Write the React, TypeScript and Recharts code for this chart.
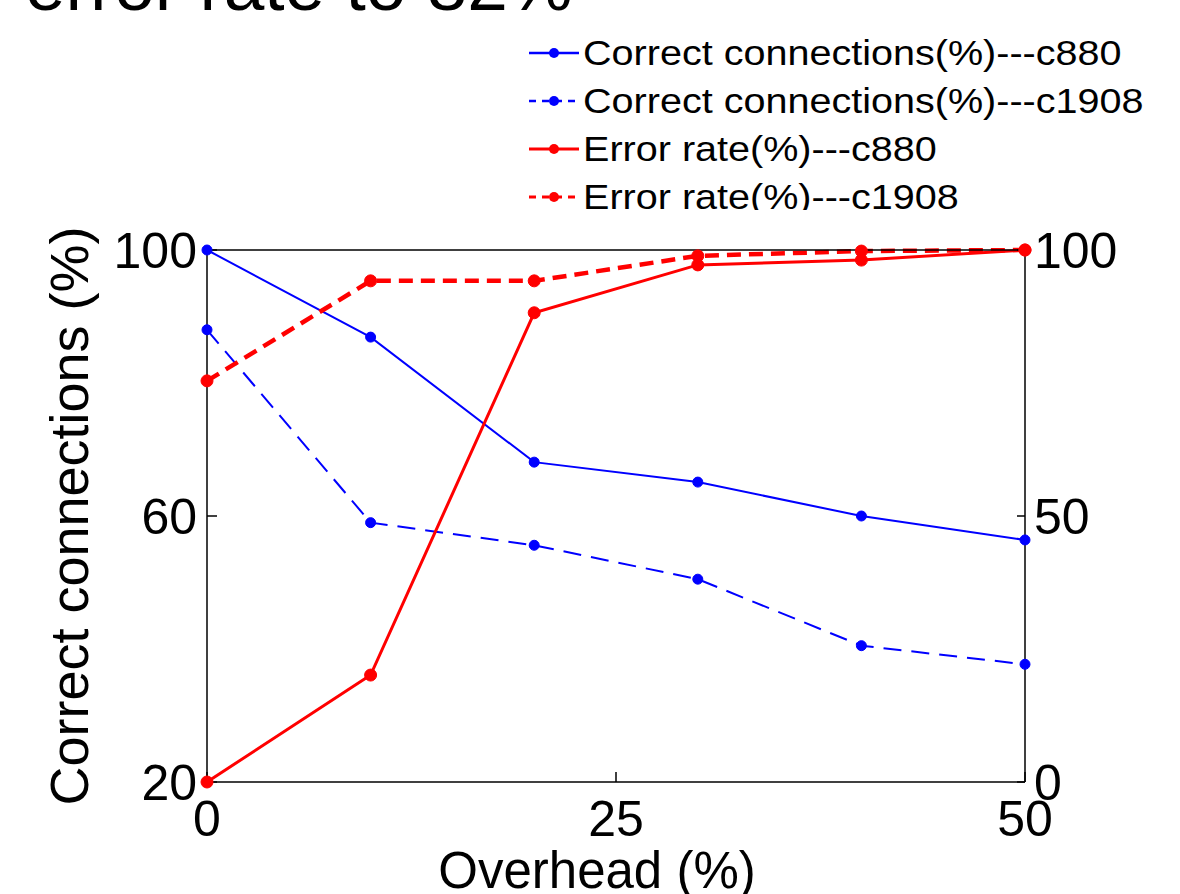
import { LineChart, Line, XAxis, YAxis, Legend } from "recharts";

const overhead = [0, 10, 20, 30, 40, 50];
const correctC880 = [100, 86.9, 68.1, 65.1, 60, 56.4];
const correctC1908 = [88, 59, 55.6, 50.5, 40.5, 37.7];
const errorC880 = [0, 20.1, 88.2, 97.2, 98.1, 100];
const errorC1908 = [75.4, 94.2, 94.2, 98.9, 99.8, 100];

const xTicks = [0, 25, 50];
const leftTicks = [20, 60, 100];
const rightTicks = [0, 50, 100];

const BLUE = "#0000ff";
const RED = "#ff0000";
const FONT = "'Liberation Sans', Arial, sans-serif";

const data = overhead.map((x, i) => ({
  x,
  c880: correctC880[i],
  c1908: correctC1908[i],
  e880: errorC880[i],
  e1908: errorC1908[i],
}));

const series = [
  { key: "c880", name: "Correct connections(%)---c880", color: BLUE, dashed: false, axis: "left", width: 2, r: 5 },
  { key: "c1908", name: "Correct connections(%)---c1908", color: BLUE, dashed: true, axis: "left", width: 2, r: 5 },
  { key: "e880", name: "Error rate(%)---c880", color: RED, dashed: false, axis: "right", width: 3, r: 6 },
  { key: "e1908", name: "Error rate(%)---c1908", color: RED, dashed: true, axis: "right", width: 4.5, r: 6 },
];

const tickStyle = { fontFamily: FONT, fontSize: 50, fill: "#000" };
const black = { stroke: "#000", strokeWidth: 1.5 };

function LegendBox() {
  return (
    <div>
      {series.map((s) => (
        <div key={s.key} style={{ height: 48, display: "flex", alignItems: "center" }}>
          <svg width={58} height={48} style={{ flex: "none" }}>
            <line
              x1={4}
              x2={54}
              y1={24}
              y2={24}
              stroke={s.color}
              strokeWidth={s.axis === "right" ? 3 : 2.5}
              strokeDasharray={s.dashed ? "7 6" : undefined}
            />
            <circle cx={29} cy={24} r={5} fill={s.color} />
          </svg>
          <span
            style={{
              fontFamily: FONT,
              fontSize: 35,
              color: "#000",
              whiteSpace: "nowrap",
              display: "inline-block",
              transform: "scaleX(1.13)",
              transformOrigin: "left center",
            }}
          >
            {s.name}
          </span>
        </div>
      ))}
    </div>
  );
}

export default function App() {
  return (
    <div style={{ position: "absolute", left: 0, top: 0, width: 1180, height: 894, background: "#fff", overflow: "hidden" }}>
      <LineChart width={1180} height={894} data={data} margin={{ top: 240, right: 0, bottom: 0, left: 0 }}>
        <XAxis
          xAxisId="bottom"
          dataKey="x"
          type="number"
          domain={[0, 50]}
          ticks={xTicks}
          interval={0}
          height={112}
          axisLine={black}
          tickLine={black}
          tickSize={-10}
          tickMargin={28}
          tick={tickStyle}
        />
        <XAxis
          xAxisId="top"
          orientation="top"
          dataKey="x"
          type="number"
          domain={[0, 50]}
          ticks={xTicks}
          interval={0}
          height={10}
          axisLine={black}
          tickLine={black}
          tickSize={-10}
          tick={false}
        />
        <YAxis
          yAxisId="left"
          domain={[20, 100]}
          ticks={leftTicks}
          interval={0}
          width={207}
          axisLine={black}
          tickLine={black}
          tickSize={-10}
          tickMargin={20}
          tick={tickStyle}
        />
        <YAxis
          yAxisId="right"
          orientation="right"
          domain={[0, 100]}
          ticks={rightTicks}
          interval={0}
          width={155}
          axisLine={black}
          tickLine={black}
          tickSize={-8}
          tickMargin={17}
          tick={tickStyle}
        />
        <Legend
          layout="vertical"
          align="center"
          verticalAlign="middle"
          content={() => <LegendBox />}
          wrapperStyle={{ left: 525, top: 29, width: 650, height: 181, overflow: "hidden" }}
        />
        {series.map((s) => (
          <Line
            key={s.key}
            xAxisId="bottom"
            yAxisId={s.axis}
            dataKey={s.key}
            name={s.name}
            stroke={s.color}
            strokeWidth={s.width}
            strokeDasharray={s.dashed ? (s.axis === "right" ? "14 8" : "18 10") : undefined}
            dot={{ r: s.r, fill: s.color, stroke: s.color, strokeWidth: 1, strokeDasharray: "" }}
            activeDot={false}
            isAnimationActive={false}
          />
        ))}
        <text x={25} y={10} fontFamily={FONT} fontSize={73} fill="#000">
          error rate to 82%
        </text>
        <text
          x={88}
          y={516}
          transform="rotate(-90 88 516)"
          textAnchor="middle"
          fontFamily={FONT}
          fontSize={54}
          fill="#000"
        >
          Correct connections (%)
        </text>
        <text x={597} y={888} textAnchor="middle" fontFamily={FONT} fontSize={51} fill="#000">
          Overhead (%)
        </text>
      </LineChart>
    </div>
  );
}
